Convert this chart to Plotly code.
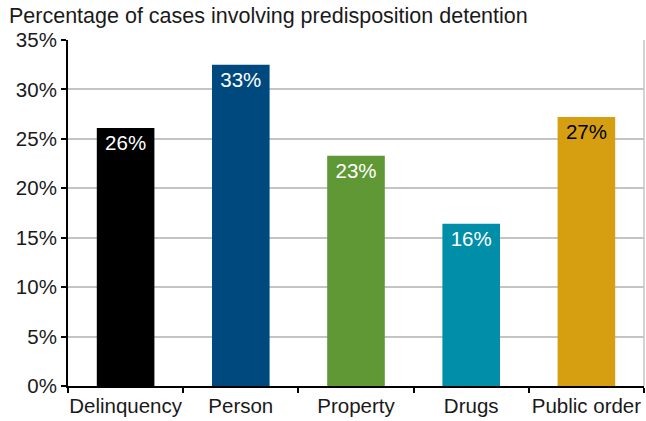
import plotly.graph_objects as go

categories = ["Delinquency", "Person", "Property", "Drugs", "Public order"]
values = [26.1, 32.5, 23.3, 16.4, 27.2]
labels = ["26%", "33%", "23%", "16%", "27%"]
colors = ["#000000", "#00497f", "#5f9834", "#008ea9", "#d69f12"]
label_colors = ["#ffffff", "#ffffff", "#ffffff", "#ffffff", "#000000"]
y_ticks = [0, 5, 10, 15, 20, 25, 30, 35]
y_tick_labels = ["0%", "5%", "10%", "15%", "20%", "25%", "30%", "35%"]

FONT = "Liberation Sans, Arial, sans-serif"
FS = 20.5

fig = go.Figure(go.Bar(
    x=categories, y=values,
    marker=dict(color=colors, line=dict(width=0)),
    text=labels, textposition="inside", insidetextanchor="end",
    textfont=dict(color=label_colors, size=FS, family=FONT),
    textangle=0, cliponaxis=False, width=0.5,
))

fig.update_layout(
    width=646, height=421,
    margin=dict(l=68, r=2, t=40, b=35, autoexpand=False),
    paper_bgcolor="white", plot_bgcolor="white",
    showlegend=False,
    font=dict(family=FONT, color="#1a1a1a"),
    annotations=[dict(
        text="Percentage of cases involving predisposition detention",
        xref="paper", yref="paper", x=-61/576, y=1, yshift=24,
        xanchor="left", yanchor="middle", showarrow=False,
        font=dict(size=21.5, family=FONT, color="#1a1a1a"),
    )],
)

fig.update_yaxes(
    range=[0, 35], tickvals=y_ticks, ticktext=y_tick_labels,
    showgrid=True, gridcolor="#c4c4c4", gridwidth=1.5,
    showline=True, linecolor="#000000", linewidth=2,
    ticks="outside", ticklen=5, tickcolor="#000000", tickwidth=1.5,
    tickfont=dict(size=FS, family=FONT, color="#1a1a1a"),
    zeroline=False, fixedrange=True, automargin=False,
)
fig.update_xaxes(
    showline=True, linecolor="#000000", linewidth=2,
    ticks="outside", tickson="boundaries", ticklen=5, tickcolor="#000000", tickwidth=1.5,
    tickfont=dict(size=FS, family=FONT, color="#1a1a1a"), tickangle=0,
    mirror=False, showgrid=False, automargin=False,
)
# right border gray line
fig.add_shape(type="line", xref="paper", yref="paper", x0=1, x1=1, y0=0, y1=1,
              line=dict(color="#c4c4c4", width=1.5), layer="below")

fig.write_html("out.html", config={"displayModeBar": False},
               post_script="document.body.style.margin='0';")
